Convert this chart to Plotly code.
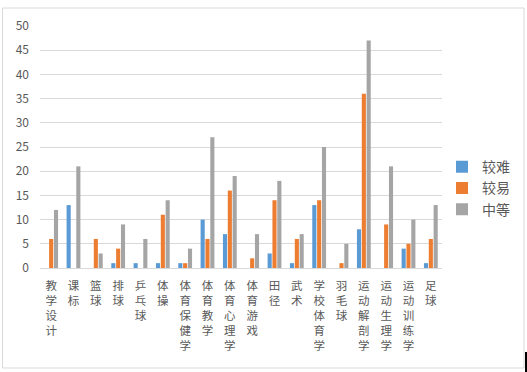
import plotly.graph_objects as go

categories = ["教学设计", "课标", "篮球", "排球", "乒乓球", "体操", "体育保健学", "体育教学",
              "体育心理学", "体育游戏", "田径", "武术", "学校体育学", "羽毛球", "运动解剖学",
              "运动生理学", "运动训练学", "足球"]
hard = [0, 13, 0, 1, 1, 1, 1, 10, 7, 0, 3, 1, 13, 0, 8, 0, 4, 1]
easy = [6, 0, 6, 4, 0, 11, 1, 6, 16, 2, 14, 6, 14, 1, 36, 9, 5, 6]
medium = [12, 21, 3, 9, 6, 14, 4, 27, 19, 7, 18, 7, 25, 5, 47, 21, 10, 13]
series_names = ["较难", "较易", "中等"]
colors = ["#5B9BD5", "#ED7D31", "#A5A5A5"]

tick_text = ["<br>".join(list(c)) for c in categories]

fig = go.Figure()
for name, vals, col in zip(series_names, [hard, easy, medium], colors):
    fig.add_trace(go.Bar(x=categories, y=vals, name=name, marker_color=col,
                         marker_line_width=0))

font_family = "Microsoft YaHei, Noto Sans CJK SC, sans-serif"
fig.update_layout(
    width=527, height=372,
    margin=dict(l=40, r=85, t=26, b=104, autoexpand=False),
    paper_bgcolor="white", plot_bgcolor="white",
    barmode="group", bargap=0.35, bargroupgap=0.15,
    font=dict(family=font_family, color="#595959", size=11),
    legend=dict(x=1.0, y=0.33, xanchor="left", yanchor="middle",
                font=dict(size=14, color="#595959"), itemwidth=30,
                tracegroupgap=0, bgcolor="rgba(0,0,0,0)"),
    showlegend=True,
)
fig.update_xaxes(
    tickmode="array", tickvals=categories, ticktext=tick_text, tickangle=0,
    showgrid=False, showline=True, linecolor="#D9D9D9", linewidth=1,
    ticks="", tickfont=dict(size=11.5, color="#595959"), ticklabelstandoff=7,
)
fig.update_yaxes(
    range=[0, 50], dtick=5, showgrid=True, gridcolor="#D9D9D9", gridwidth=1,
    zeroline=False, showline=False, ticks="",
    tickfont=dict(size=12, color="#595959"), ticklabelstandoff=10,
)
# chart border
fig.add_shape(type="rect", xref="paper", yref="paper",
              x0=(2.5 - 40) / 402, x1=(524 - 40) / 402,
              y0=(268 - 368) / 242, y1=(268 - 8) / 242,
              line=dict(color="#D9D9D9", width=1), fillcolor="rgba(0,0,0,0)")
fig.add_shape(type="rect", xref="paper", yref="paper",
              x0=(525 - 40) / 402, x1=(528 - 40) / 402,
              y0=(268 - 373) / 242, y1=(268 - 352) / 242,
              line=dict(width=0), fillcolor="black")

fig.write_html("out.html", config={"displayModeBar": False},
               post_script="document.body.style.margin='0px';")
